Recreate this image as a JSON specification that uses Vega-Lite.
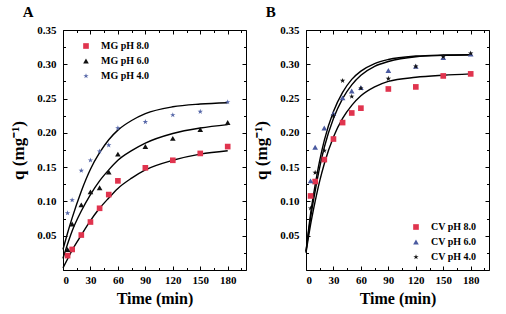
{
  "$schema": "https://vega.github.io/schema/vega-lite/v6.json",
  "padding": {"left": 9, "top": 4, "right": 5, "bottom": 3},
  "background": "white",
  "spacing": 5,
  "datasets": {
    "ptsA": [
      {"t": 5, "q": 0.021, "s": "MG pH 8.0"}, {"t": 10, "q": 0.030, "s": "MG pH 8.0"}, {"t": 20, "q": 0.051, "s": "MG pH 8.0"}, {"t": 30, "q": 0.070, "s": "MG pH 8.0"}, {"t": 40, "q": 0.090, "s": "MG pH 8.0"}, {"t": 50, "q": 0.110, "s": "MG pH 8.0"}, {"t": 60, "q": 0.130, "s": "MG pH 8.0"}, {"t": 90, "q": 0.149, "s": "MG pH 8.0"}, {"t": 120, "q": 0.160, "s": "MG pH 8.0"}, {"t": 150, "q": 0.170, "s": "MG pH 8.0"}, {"t": 180, "q": 0.180, "s": "MG pH 8.0"},
      {"t": 5, "q": 0.030, "s": "MG pH 6.0"}, {"t": 10, "q": 0.067, "s": "MG pH 6.0"}, {"t": 20, "q": 0.095, "s": "MG pH 6.0"}, {"t": 30, "q": 0.114, "s": "MG pH 6.0"}, {"t": 40, "q": 0.120, "s": "MG pH 6.0"}, {"t": 50, "q": 0.143, "s": "MG pH 6.0"}, {"t": 60, "q": 0.169, "s": "MG pH 6.0"}, {"t": 90, "q": 0.180, "s": "MG pH 6.0"}, {"t": 120, "q": 0.192, "s": "MG pH 6.0"}, {"t": 150, "q": 0.205, "s": "MG pH 6.0"}, {"t": 180, "q": 0.215, "s": "MG pH 6.0"},
      {"t": 5, "q": 0.083, "s": "MG pH 4.0"}, {"t": 10, "q": 0.102, "s": "MG pH 4.0"}, {"t": 20, "q": 0.145, "s": "MG pH 4.0"}, {"t": 30, "q": 0.160, "s": "MG pH 4.0"}, {"t": 40, "q": 0.173, "s": "MG pH 4.0"}, {"t": 50, "q": 0.182, "s": "MG pH 4.0"}, {"t": 60, "q": 0.207, "s": "MG pH 4.0"}, {"t": 90, "q": 0.216, "s": "MG pH 4.0"}, {"t": 120, "q": 0.226, "s": "MG pH 4.0"}, {"t": 150, "q": 0.231, "s": "MG pH 4.0"}, {"t": 180, "q": 0.245, "s": "MG pH 4.0"}
    ],
    "fitA": [
      {"t": 0, "q": 0.030, "s": "f4"}, {"t": 5, "q": 0.054, "s": "f4"}, {"t": 10, "q": 0.076, "s": "f4"}, {"t": 20, "q": 0.115, "s": "f4"}, {"t": 30, "q": 0.147, "s": "f4"}, {"t": 40, "q": 0.171, "s": "f4"}, {"t": 50, "q": 0.190, "s": "f4"}, {"t": 60, "q": 0.204, "s": "f4"}, {"t": 75, "q": 0.218, "s": "f4"}, {"t": 90, "q": 0.228, "s": "f4"}, {"t": 120, "q": 0.238, "s": "f4"}, {"t": 150, "q": 0.242, "s": "f4"}, {"t": 180, "q": 0.244, "s": "f4"},
      {"t": 0, "q": 0.017, "s": "f6"}, {"t": 5, "q": 0.038, "s": "f6"}, {"t": 10, "q": 0.057, "s": "f6"}, {"t": 20, "q": 0.086, "s": "f6"}, {"t": 30, "q": 0.110, "s": "f6"}, {"t": 40, "q": 0.130, "s": "f6"}, {"t": 50, "q": 0.146, "s": "f6"}, {"t": 60, "q": 0.160, "s": "f6"}, {"t": 75, "q": 0.174, "s": "f6"}, {"t": 90, "q": 0.185, "s": "f6"}, {"t": 120, "q": 0.199, "s": "f6"}, {"t": 150, "q": 0.207, "s": "f6"}, {"t": 180, "q": 0.212, "s": "f6"},
      {"t": 0, "q": 0.003, "s": "f8"}, {"t": 5, "q": 0.016, "s": "f8"}, {"t": 10, "q": 0.029, "s": "f8"}, {"t": 20, "q": 0.051, "s": "f8"}, {"t": 30, "q": 0.072, "s": "f8"}, {"t": 40, "q": 0.090, "s": "f8"}, {"t": 50, "q": 0.105, "s": "f8"}, {"t": 60, "q": 0.119, "s": "f8"}, {"t": 75, "q": 0.134, "s": "f8"}, {"t": 90, "q": 0.146, "s": "f8"}, {"t": 120, "q": 0.160, "s": "f8"}, {"t": 150, "q": 0.169, "s": "f8"}, {"t": 180, "q": 0.174, "s": "f8"}
    ],
    "ptsB": [
      {"t": 5, "q": 0.108, "s": "CV pH 8.0"}, {"t": 10, "q": 0.129, "s": "CV pH 8.0"}, {"t": 20, "q": 0.161, "s": "CV pH 8.0"}, {"t": 30, "q": 0.191, "s": "CV pH 8.0"}, {"t": 40, "q": 0.215, "s": "CV pH 8.0"}, {"t": 50, "q": 0.229, "s": "CV pH 8.0"}, {"t": 60, "q": 0.236, "s": "CV pH 8.0"}, {"t": 90, "q": 0.264, "s": "CV pH 8.0"}, {"t": 120, "q": 0.267, "s": "CV pH 8.0"}, {"t": 150, "q": 0.283, "s": "CV pH 8.0"}, {"t": 180, "q": 0.286, "s": "CV pH 8.0"},
      {"t": 5, "q": 0.130, "s": "CV pH 6.0"}, {"t": 10, "q": 0.179, "s": "CV pH 6.0"}, {"t": 20, "q": 0.207, "s": "CV pH 6.0"}, {"t": 30, "q": 0.228, "s": "CV pH 6.0"}, {"t": 40, "q": 0.251, "s": "CV pH 6.0"}, {"t": 50, "q": 0.261, "s": "CV pH 6.0"}, {"t": 60, "q": 0.266, "s": "CV pH 6.0"}, {"t": 90, "q": 0.291, "s": "CV pH 6.0"}, {"t": 120, "q": 0.297, "s": "CV pH 6.0"}, {"t": 150, "q": 0.310, "s": "CV pH 6.0"}, {"t": 180, "q": 0.315, "s": "CV pH 6.0"},
      {"t": 5, "q": 0.090, "s": "CV pH 4.0"}, {"t": 10, "q": 0.142, "s": "CV pH 4.0"}, {"t": 20, "q": 0.174, "s": "CV pH 4.0"}, {"t": 30, "q": 0.225, "s": "CV pH 4.0"}, {"t": 40, "q": 0.276, "s": "CV pH 4.0"}, {"t": 50, "q": 0.253, "s": "CV pH 4.0"}, {"t": 60, "q": 0.265, "s": "CV pH 4.0"}, {"t": 90, "q": 0.279, "s": "CV pH 4.0"}, {"t": 120, "q": 0.297, "s": "CV pH 4.0"}, {"t": 150, "q": 0.311, "s": "CV pH 4.0"}, {"t": 180, "q": 0.316, "s": "CV pH 4.0"}
    ],
    "fitB": [
      {"t": 0, "q": 0.027, "s": "g1"}, {"t": 5, "q": 0.082, "s": "g1"}, {"t": 10, "q": 0.124, "s": "g1"}, {"t": 15, "q": 0.160, "s": "g1"}, {"t": 20, "q": 0.189, "s": "g1"}, {"t": 30, "q": 0.231, "s": "g1"}, {"t": 40, "q": 0.259, "s": "g1"}, {"t": 50, "q": 0.278, "s": "g1"}, {"t": 60, "q": 0.290, "s": "g1"}, {"t": 75, "q": 0.301, "s": "g1"}, {"t": 90, "q": 0.307, "s": "g1"}, {"t": 120, "q": 0.312, "s": "g1"}, {"t": 150, "q": 0.3135, "s": "g1"}, {"t": 180, "q": 0.314, "s": "g1"},
      {"t": 0, "q": 0.027, "s": "g2"}, {"t": 5, "q": 0.076, "s": "g2"}, {"t": 10, "q": 0.115, "s": "g2"}, {"t": 15, "q": 0.150, "s": "g2"}, {"t": 20, "q": 0.179, "s": "g2"}, {"t": 30, "q": 0.221, "s": "g2"}, {"t": 40, "q": 0.250, "s": "g2"}, {"t": 50, "q": 0.270, "s": "g2"}, {"t": 60, "q": 0.284, "s": "g2"}, {"t": 75, "q": 0.297, "s": "g2"}, {"t": 90, "q": 0.304, "s": "g2"}, {"t": 120, "q": 0.311, "s": "g2"}, {"t": 150, "q": 0.313, "s": "g2"}, {"t": 180, "q": 0.314, "s": "g2"},
      {"t": 0, "q": 0.025, "s": "g3"}, {"t": 5, "q": 0.066, "s": "g3"}, {"t": 10, "q": 0.100, "s": "g3"}, {"t": 15, "q": 0.130, "s": "g3"}, {"t": 20, "q": 0.155, "s": "g3"}, {"t": 30, "q": 0.194, "s": "g3"}, {"t": 40, "q": 0.221, "s": "g3"}, {"t": 50, "q": 0.240, "s": "g3"}, {"t": 60, "q": 0.254, "s": "g3"}, {"t": 75, "q": 0.267, "s": "g3"}, {"t": 90, "q": 0.275, "s": "g3"}, {"t": 120, "q": 0.281, "s": "g3"}, {"t": 150, "q": 0.284, "s": "g3"}, {"t": 180, "q": 0.286, "s": "g3"}
    ]
  },
  "hconcat": [
    {
      "width": 183, "height": 240,
      "title": {"text": "A", "anchor": "start", "dx": 13, "offset": 4},
      "layer": [
        {
          "data": {"name": "fitA"},
          "mark": {"type": "line", "interpolate": "monotone", "color": "black", "strokeWidth": 1.4},
          "encoding": {
            "x": {"field": "t", "type": "quantitative", "scale": {"domain": [0, 200], "nice": false},
                  "axis": {"orient": "top", "labels": false, "title": null, "values": [0,15,30,45,60,75,90,105,120,135,150,165,180,195],
                           "tickSize": {"condition": {"test": "datum.value % 30 === 0", "value": -4}, "value": -2.5}}},
            "y": {"field": "q", "type": "quantitative", "scale": {"domain": [0, 0.35], "nice": false},
                  "axis": {"orient": "right", "labels": false, "title": null, "values": [0,0.025,0.05,0.075,0.1,0.125,0.15,0.175,0.2,0.225,0.25,0.275,0.3,0.325,0.35],
                           "tickSize": {"condition": {"test": "abs(datum.value*20 - round(datum.value*20)) < 0.001", "value": -4}, "value": -2.5}}},
            "detail": {"field": "s"}
          }
        },
        {
          "data": {"name": "ptsA"},
          "mark": {"type": "point", "filled": true, "opacity": 1, "size": 32},
          "encoding": {
            "x": {"field": "t", "type": "quantitative", "scale": {"domain": [0, 200], "nice": false},
                  "axis": {"orient": "bottom", "title": "Time (min)", "values": [0,15,30,45,60,75,90,105,120,135,150,165,180,195],
                           "labelExpr": "datum.value % 30 === 0 ? datum.label : ''",
                           "tickSize": {"condition": {"test": "datum.value % 30 === 0", "value": -4}, "value": -2.5}}},
            "y": {"field": "q", "type": "quantitative", "scale": {"domain": [0, 0.35], "nice": false},
                  "axis": {"orient": "left", "title": "q (mg⁻¹)", "titleFontSize": 17, "labelPadding": 11, "titlePadding": 9, "values": [0,0.025,0.05,0.075,0.1,0.125,0.15,0.175,0.2,0.225,0.25,0.275,0.3,0.325,0.35],
                           "labelExpr": "datum.value > 0.001 && abs(datum.value*20 - round(datum.value*20)) < 0.001 ? format(datum.value, '.2f') : ''",
                           "tickSize": {"condition": {"test": "abs(datum.value*20 - round(datum.value*20)) < 0.001", "value": -4}, "value": -2.5}}},
            "color": {"field": "s", "type": "nominal",
                      "scale": {"domain": ["MG pH 8.0", "MG pH 6.0", "MG pH 4.0"], "range": ["#e0344e", "#111111", "#5667a8"]},
                      "legend": {"orient": "none", "legendX": 18, "legendY": 11}},
            "shape": {"field": "s", "type": "nominal",
                      "scale": {"domain": ["MG pH 8.0", "MG pH 6.0", "MG pH 4.0"], "range": ["square", "triangle-up", "M0,-1L0.2245,-0.309L0.951,-0.309L0.363,0.118L0.588,0.809L0,0.382L-0.588,0.809L-0.363,0.118L-0.951,-0.309L-0.2245,-0.309Z"]}}
          }
        }
      ],
      "resolve": {"axis": {"x": "independent", "y": "independent"}}
    },
    {
      "width": 183, "height": 240,
      "title": {"text": "B", "anchor": "start", "dx": 13, "offset": 4},
      "layer": [
        {
          "data": {"name": "fitB"},
          "mark": {"type": "line", "interpolate": "monotone", "color": "black", "strokeWidth": 1.4},
          "encoding": {
            "x": {"field": "t", "type": "quantitative", "scale": {"domain": [0, 200], "nice": false},
                  "axis": {"orient": "top", "labels": false, "title": null, "values": [0,15,30,45,60,75,90,105,120,135,150,165,180,195],
                           "tickSize": {"condition": {"test": "datum.value % 30 === 0", "value": -4}, "value": -2.5}}},
            "y": {"field": "q", "type": "quantitative", "scale": {"domain": [0, 0.35], "nice": false},
                  "axis": {"orient": "right", "labels": false, "title": null, "values": [0,0.025,0.05,0.075,0.1,0.125,0.15,0.175,0.2,0.225,0.25,0.275,0.3,0.325,0.35],
                           "tickSize": {"condition": {"test": "abs(datum.value*20 - round(datum.value*20)) < 0.001", "value": -4}, "value": -2.5}}},
            "detail": {"field": "s"}
          }
        },
        {
          "data": {"name": "ptsB"},
          "mark": {"type": "point", "filled": true, "opacity": 1, "size": 32},
          "encoding": {
            "x": {"field": "t", "type": "quantitative", "scale": {"domain": [0, 200], "nice": false},
                  "axis": {"orient": "bottom", "title": "Time (min)", "values": [0,15,30,45,60,75,90,105,120,135,150,165,180,195],
                           "labelExpr": "datum.value % 30 === 0 ? datum.label : ''",
                           "tickSize": {"condition": {"test": "datum.value % 30 === 0", "value": -4}, "value": -2.5}}},
            "y": {"field": "q", "type": "quantitative", "scale": {"domain": [0, 0.35], "nice": false},
                  "axis": {"orient": "left", "title": "q (mg⁻¹)", "titleFontSize": 17, "labelPadding": 11, "titlePadding": 9, "values": [0,0.025,0.05,0.075,0.1,0.125,0.15,0.175,0.2,0.225,0.25,0.275,0.3,0.325,0.35],
                           "labelExpr": "datum.value > 0.001 && abs(datum.value*20 - round(datum.value*20)) < 0.001 ? format(datum.value, '.2f') : ''",
                           "tickSize": {"condition": {"test": "abs(datum.value*20 - round(datum.value*20)) < 0.001", "value": -4}, "value": -2.5}}},
            "color": {"field": "s", "type": "nominal",
                      "scale": {"domain": ["CV pH 8.0", "CV pH 6.0", "CV pH 4.0"], "range": ["#e0344e", "#4a5aa0", "#111111"]},
                      "legend": {"orient": "none", "legendX": 105, "legendY": 192}},
            "shape": {"field": "s", "type": "nominal",
                      "scale": {"domain": ["CV pH 8.0", "CV pH 6.0", "CV pH 4.0"], "range": ["square", "triangle-up", "M0,-1L0.2245,-0.309L0.951,-0.309L0.363,0.118L0.588,0.809L0,0.382L-0.588,0.809L-0.363,0.118L-0.951,-0.309L-0.2245,-0.309Z"]}}
          }
        }
      ],
      "resolve": {"axis": {"x": "independent", "y": "independent"}}
    }
  ],
  "resolve": {"scale": {"color": "independent", "shape": "independent"}, "legend": {"color": "independent", "shape": "independent"}},
  "config": {
    "font": "Liberation Serif",
    "view": {"stroke": "black", "strokeWidth": 1},
    "title": {"font": "Liberation Serif", "fontSize": 15, "fontWeight": "bold", "color": "black"},
    "axis": {"labelFont": "Liberation Serif", "labelFontSize": 11, "labelFontWeight": "bold", "labelColor": "black",
             "titleFont": "Liberation Serif", "titleFontSize": 16, "titleFontWeight": "bold", "titleColor": "black",
             "tickColor": "black", "tickWidth": 1, "grid": false, "domain": false, "labelPadding": 8, "titlePadding": 5},
    "legend": {"title": null, "labelFont": "Liberation Serif", "labelFontSize": 10, "labelFontWeight": "bold", "labelColor": "black",
               "symbolSize": 32, "symbolStrokeWidth": 0, "rowPadding": 5, "labelOffset": 10}
  }
}
